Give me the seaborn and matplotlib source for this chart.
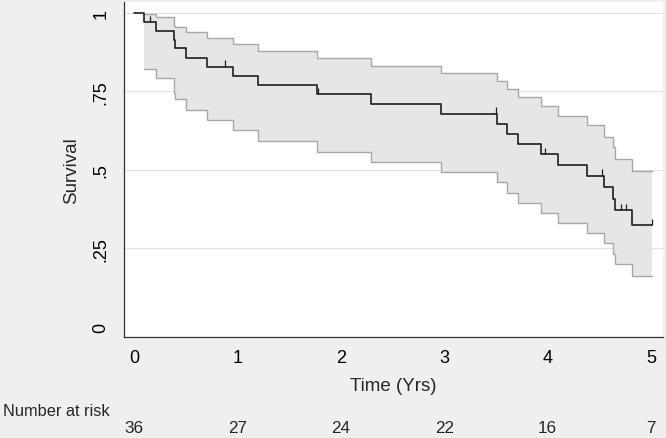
import numpy as np
import pandas as pd
import seaborn as sns
import matplotlib.pyplot as plt

# --- data (Kaplan-Meier estimate with 95% band) ---
step_times = [0, 0.097, 0.215, 0.387, 0.40, 0.506, 0.706, 0.957, 1.196, 1.773,
              2.29, 2.97, 3.507, 3.605, 3.71, 3.94, 4.10, 4.385, 4.55, 4.635,
              4.65, 4.82, 5.013]
survival = [1.0, 0.972, 0.944, 0.915, 0.887, 0.858, 0.829, 0.800, 0.770, 0.741,
            0.710, 0.679, 0.646, 0.614, 0.582, 0.550, 0.516, 0.482, 0.445, 0.408,
            0.371, 0.325, 0.325]
# band starts at the first event
upper_ci = [0.998, 0.987, 0.960, 0.955, 0.939, 0.920, 0.900, 0.878, 0.856,
            0.832, 0.809, 0.783, 0.758, 0.731, 0.705, 0.673, 0.643, 0.604, 0.572,
            0.535, 0.498, 0.498]
lower_ci = [0.821, 0.793, 0.745, 0.727, 0.690, 0.658, 0.626, 0.591, 0.558,
            0.526, 0.494, 0.461, 0.427, 0.395, 0.363, 0.332, 0.300, 0.267, 0.232,
            0.201, 0.163, 0.163]
censor_times = [0.155, 0.877, 1.78, 3.497, 3.975, 4.53, 4.71, 4.755, 5.013]
censor_surv = [0.972, 0.829, 0.741, 0.679, 0.550, 0.482, 0.371, 0.371, 0.325]

risk_times = [0, 1, 2, 3, 4, 5]
risk_counts = [36, 27, 24, 22, 16, 7]
y_ticks = [0, 0.25, 0.5, 0.75, 1]
y_tick_labels = ['0', '.25', '.5', '.75', '1']

# --- style ---
sns.set_style('white')
plt.rcParams['font.family'] = ['Liberation Sans', 'DejaVu Sans']
plt.rcParams['font.size'] = 12

BG = '#efefef'
FILL = '#e6e6e6'
EDGE = '#a8a8a8'
DARK = '#1e1e1e'

fig = plt.figure(figsize=(6.66, 4.39), dpi=100, facecolor=BG)
ax = fig.add_axes([124 / 666, 1 - 338 / 439, (663 - 124) / 666, (338 - 3) / 439])
ax.set_facecolor('white')

km = pd.DataFrame({'t': step_times, 's': survival})
band = pd.DataFrame({'t': step_times[1:], 'lo': lower_ci, 'hi': upper_ci})

for yv in y_ticks[1:]:
    ax.axhline(yv, color='#e2e2e2', lw=0.9, zorder=0)

ax.fill_between(band['t'], band['lo'], band['hi'], step='post', color=FILL, lw=0, zorder=1)
sns.lineplot(data=band, x='t', y='hi', drawstyle='steps-post', color=EDGE, lw=1.0, ax=ax, zorder=2)
sns.lineplot(data=band, x='t', y='lo', drawstyle='steps-post', color=EDGE, lw=1.0, ax=ax, zorder=2)
sns.lineplot(data=km, x='t', y='s', drawstyle='steps-post', color=DARK, lw=1.2, ax=ax, zorder=3)
ax.vlines(censor_times, censor_surv, np.array(censor_surv) + 0.02, color=DARK, lw=0.9, zorder=3)

ax.set_xlim(-0.097, 5.116)
ax.set_ylim(-0.032, 1.035)
ax.set_xticks(risk_times)
ax.set_yticks(y_ticks)
ax.set_yticklabels(y_tick_labels, rotation=90, va='center')
ax.tick_params(axis='both', direction='out', length=5.5, width=0.9, color='#333333',
               labelsize=13, labelcolor='black')
ax.tick_params(axis='x', pad=3)
ax.tick_params(axis='y', pad=5)

for side in ['top', 'right']:
    ax.spines[side].set_visible(False)
for side in ['left', 'bottom']:
    ax.spines[side].set_color('#333333')
    ax.spines[side].set_linewidth(0.9)

ax.set_xlabel('Time (Yrs)', fontsize=13.5, labelpad=8)
ax.set_ylabel('Survival', fontsize=13.5, labelpad=9)

# number at risk table
ax.text(0.005, 1 - 412 / 439, 'Number at risk', transform=fig.transFigure,
        ha='left', va='center', fontsize=11.8)
trans = ax.get_xaxis_transform()
for t, n in zip(risk_times, risk_counts):
    ax.text(t, (429 - 338) / -335.0, str(n), transform=trans, ha='center', va='center', fontsize=12.3)

fig.savefig('out.png', dpi=100, facecolor=BG)
